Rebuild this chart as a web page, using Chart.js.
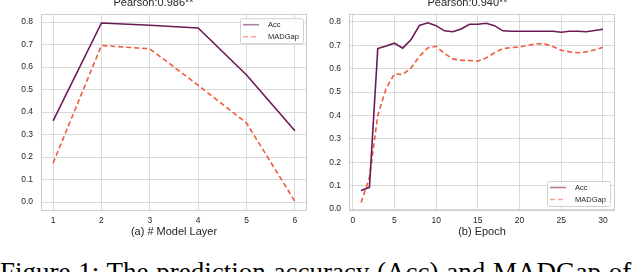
<!DOCTYPE html>
<html>
<head>
<meta charset="utf-8">
<script src="https://cdn.jsdelivr.net/npm/chart.js@4.4.1/dist/chart.umd.min.js"></script>
<style>
  html, body { margin: 0; padding: 0; background: #fff; overflow: hidden; }
  body { width: 640px; height: 272px; position: relative; }
  .panel { position: absolute; top: -4px; width: 320px; height: 250px; }
  #caption {
    position: absolute; left: 0px; top: 259px; width: 700px;
    font-family: "Liberation Serif", "Times New Roman", serif;
    font-size: 27px; line-height: 27px; white-space: nowrap; color: #000;
    word-spacing: 1px;
  }
</style>
</head>
<body>
<div class="panel" style="left:0"><canvas id="layerChart" width="320" height="250"></canvas></div>
<div class="panel" style="left:320px"><canvas id="epochChart" width="320" height="250"></canvas></div>
<div id="caption">Figure 1: The prediction accuracy (Acc) and MADGap of</div>
<script>
// (a) number of model layers
const layers = [1, 2, 3, 4, 5, 6];
const layerAcc = [0.361, 0.796, 0.786, 0.774, 0.565, 0.317];
const layerMadGap = [0.173, 0.696, 0.681, 0.519, 0.351, 0.003];

// (b) training epochs
const epochs = [1, 2, 3, 4, 5, 6, 7, 8, 9, 10, 11, 12, 13, 14, 15, 16, 17, 18, 19, 20, 21, 22, 23, 24, 25, 26, 27, 28, 29, 30];
const epochAcc = [0.080, 0.093, 0.686, 0.697, 0.709, 0.688, 0.725, 0.785, 0.796, 0.784, 0.762, 0.758, 0.770, 0.790, 0.790, 0.794, 0.784, 0.762, 0.760, 0.760, 0.760, 0.760, 0.760, 0.760, 0.756, 0.760, 0.760, 0.758, 0.763, 0.769];
const epochMadGap = [0.028, 0.135, 0.400, 0.516, 0.578, 0.575, 0.604, 0.653, 0.689, 0.696, 0.665, 0.642, 0.636, 0.635, 0.632, 0.646, 0.668, 0.686, 0.690, 0.693, 0.700, 0.707, 0.706, 0.695, 0.679, 0.672, 0.668, 0.672, 0.680, 0.692];

const yTicks = [0.0, 0.1, 0.2, 0.3, 0.4, 0.5, 0.6, 0.7, 0.8];
const layerTicks = [1, 2, 3, 4, 5, 6];
const epochTicks = [0, 5, 10, 15, 20, 25, 30];

const titles = ['Pearson:0.986**', 'Pearson:0.940**'];
const xTitles = ['(a) # Model Layer', '(b) Epoch'];
const seriesNames = ['Acc', 'MADGap'];

const accColor = '#6b1a55';
const madColor = '#f25a3a';
const gridColor = '#d9d9d9';
const fontFamily = '"Liberation Sans", Arial, sans-serif';

// full box around the plot + legend drawn inside the plot area
const boxAndLegend = {
  id: 'boxAndLegend',
  afterDatasetsDraw(chart, args, opts) {
    const { ctx, chartArea: a } = chart;
    ctx.save();
    ctx.strokeStyle = '#cccccc';
    ctx.lineWidth = 1;
    ctx.strokeRect(Math.round(a.left) + 0.5, Math.round(a.top) + 0.5,
      Math.round(a.right - a.left) - 1, Math.round(a.bottom - a.top) - 1);

    const w = 63, h = 25;
    const x = a.right - opts.right - w;
    const y = opts.corner === 'top' ? a.top + opts.offset : a.bottom - opts.offset - h;
    ctx.fillStyle = 'rgba(255,255,255,0.85)';
    ctx.strokeStyle = '#d0d0d0';
    ctx.beginPath();
    ctx.roundRect(x + 0.5, y + 0.5, w, h, 2);
    ctx.fill();
    ctx.stroke();

    ctx.font = '7.5px ' + fontFamily;
    ctx.textBaseline = 'middle';
    chart.data.datasets.forEach((ds, i) => {
      const ry = y + 6.5 + i * 12;
      ctx.globalAlpha = 0.55;
      ctx.strokeStyle = ds.borderColor;
      ctx.lineWidth = 1.6;
      ctx.setLineDash(ds.borderDash || []);
      ctx.beginPath();
      ctx.moveTo(x + 3, ry);
      ctx.lineTo(x + 19, ry);
      ctx.stroke();
      ctx.setLineDash([]);
      ctx.globalAlpha = 1;
      ctx.fillStyle = '#262626';
      ctx.fillText(ds.label, x + 28, ry);
    });
    ctx.restore();
  }
};

function makeChart(id, xs, acc, mad, xMin, xMax, xTickVals, yMin, yMax, yWidth, padRight, title, xTitle, legendOpts) {
  const ctx = document.getElementById(id).getContext('2d');
  return new Chart(ctx, {
    type: 'line',
    data: {
      datasets: [{
        label: seriesNames[0],
        data: xs.map((v, i) => ({ x: v, y: acc[i] })),
        borderColor: accColor,
        borderWidth: 1.6,
        pointRadius: 0,
        tension: 0
      }, {
        label: seriesNames[1],
        data: xs.map((v, i) => ({ x: v, y: mad[i] })),
        borderColor: madColor,
        borderWidth: 1.6,
        borderDash: [5, 3],
        pointRadius: 0,
        tension: 0
      }]
    },
    options: {
      responsive: false,
      animation: false,
      layout: { padding: { right: padRight, top: 0, bottom: 0, left: 0 } },
      plugins: {
        legend: { display: false },
        tooltip: { enabled: false },
        title: {
          display: true,
          text: title,
          color: '#262626',
          font: { family: fontFamily, size: 11, weight: 'normal' },
          padding: { top: 0, bottom: 5 }
        },
        boxAndLegend: legendOpts
      },
      scales: {
        x: {
          type: 'linear',
          min: xMin,
          max: xMax,
          afterBuildTicks: s => { s.ticks = xTickVals.map(v => ({ value: v })); },
          afterFit: s => { s.height = 35; },
          grid: { color: gridColor, drawTicks: false },
          border: { display: false },
          ticks: {
            color: '#262626',
            padding: 5,
            maxRotation: 0,
            font: { family: fontFamily, size: 8.5 }
          },
          title: {
            display: true,
            text: xTitle,
            color: '#262626',
            font: { family: fontFamily, size: 11 },
            padding: { top: 0, bottom: 7 }
          }
        },
        y: {
          min: yMin,
          max: yMax,
          afterBuildTicks: s => { s.ticks = yTicks.map(v => ({ value: v })); },
          afterFit: s => { s.width = yWidth; },
          grid: { color: gridColor, drawTicks: false },
          border: { display: false },
          ticks: {
            color: '#262626',
            padding: 8,
            font: { family: fontFamily, size: 8.5 },
            callback: v => v.toFixed(1)
          }
        }
      }
    },
    plugins: [boxAndLegend]
  });
}

makeChart('layerChart', layers, layerAcc, layerMadGap, 0.75, 6.25, layerTicks,
  -0.04, 0.835, 41, 13, titles[0], xTitles[0], { corner: 'top', right: 4, offset: 4 });
makeChart('epochChart', epochs, epochAcc, epochMadGap, -0.45, 31.45, epochTicks,
  -0.008, 0.833, 29, 25, titles[1], xTitles[1], { corner: 'bottom', right: 5, offset: 5 });
</script>
</body>
</html>
